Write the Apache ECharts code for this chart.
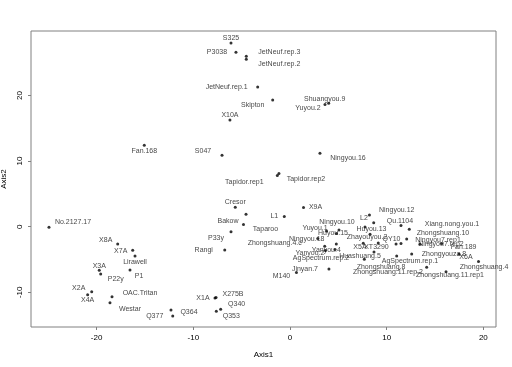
<!DOCTYPE html>
<html>
<head>
<meta charset="utf-8">
<script src="https://cdn.jsdelivr.net/npm/echarts@6/dist/echarts.min.js"></script>
<style>
html,body{margin:0;padding:0;background:#fff;}
#chart{width:512px;height:367px;}
</style>
</head>
<body>
<div id="chart"></div>
<script>
// Sample names and their ordination scores
const names = ["S325","P3038","JetNeuf.rep.3","JetNeuf.rep.2","JetNeuf.rep.1","Skipton","Shuangyou.9","Yuyou.2","X10A","S047",
 "Fan.168","Ningyou.16","Tapidor.rep1","Tapidor.rep2","Cresor","X9A","Bakow","Taparoo","L1","P33y",
 "Rangi","No.2127.17","X8A","X7A","Lirawell","X3A","P22y","P1","X2A","X4A",
 "OAC.Tritan","Westar","Q377","Q364","X1A","X275B","Q340","Q353","M140","Jinyan.7",
 "Ningyou.18","Zhongshuang.4.c","Yanyou.4","AgSpectrum.rep.2","Yanyou.2","Huyou.15","Ningyou.10","Yuyou.1","L2","Ningyou.12",
 "Huyou.13","Qu.1104","Xiang.nong.you.1","Zhayouyou.2","Zhongshuang.10","QY10","X5A","XT3290","Huashuang.5","Zhongshuang.8",
 "AgSpectrum.rep.1","Zhongyouza.8","Ningyou7.rep1","Ningyou7.rep2","Fan.189","X6A","Zhongshuang.4","Zhongshuang.11.rep.2","Zhongshuang.11.rep1"];
const axis1 = [-6.10,-5.59,-4.52,-4.52,-3.34,-1.79,4.00,3.62,-6.21,-7.03,
 -15.07,3.10,-1.31,-1.14,-5.66,1.40,-4.55,-4.81,-0.59,-6.10,
 -6.75,-24.93,-17.82,-16.27,-16.03,-19.73,-19.58,-16.55,-20.51,-20.93,
 -18.41,-18.62,-12.13,-12.31,-7.76,-7.65,-7.17,-7.62,0.67,4.03,
 2.87,3.59,4.79,4.66,3.67,4.81,5.07,3.78,8.22,8.66,
 7.76,11.48,12.34,8.28,12.07,10.97,7.58,9.13,8.69,7.69,
 11.04,12.59,13.45,11.48,15.69,17.48,19.50,14.14,16.14];
const axis2 = [28.00,26.59,25.98,25.52,21.30,19.31,18.81,18.63,16.27,10.88,
 12.41,11.19,7.80,8.11,2.96,2.93,1.89,0.34,1.55,-0.76,
 -3.55,-0.09,-2.64,-3.60,-4.47,-6.65,-7.21,-6.60,-9.91,-10.37,
 -10.67,-11.59,-13.61,-12.70,-10.87,-10.79,-12.59,-12.90,-6.98,-6.45,
 -1.80,-2.99,-2.64,-3.48,-3.63,-1.04,-0.50,-0.66,1.78,0.61,
 -0.05,0.18,-0.40,-1.16,-1.88,-2.64,-2.53,-2.48,-3.86,-4.97,
 -4.47,-4.16,-2.68,-2.56,-2.56,-4.16,-5.30,-6.19,-6.86];
const xTicks = [-20,-10,0,10,20];
const yTicks = [-10,0,10,20];

// label placement (pixel offsets of each label from its point)
const labelOffsets = [[0,-5],[-19,0],[33,-4],[33,5],[-31,0],[-20,5],[-4,-4],[-17,4],[0,-5],[-19,-4],
 [0,6],[28,5],[-33,7],[27,6],[0,-5],[12,0],[-18,7],[22,5],[-10,0],[-15,6],
 [-21,0],[24,-5],[-12,-4],[-12,1],[0,6],[0,-4],[15,5],[9,6],[-13,-4],[0,5],
 [28,-4],[20,6],[-18,0],[18,2],[-12,0],[17,-3],[16,-5],[15,5],[-15,4],[-24,0],
 [-11,0.5],[-50,-3],[-10,6],[-14,8.5],[-15.5,3],[-3.5,0],[-2,-7.7],[-11.5,-3],[-5.5,3],[23,-12.7],
 [6.5,2.5],[-1,-4.2],[42.7,-4.8],[-3,2.7],[36.3,-5.7],[-4.5,-5.3],[-3.3,4.2],[-1.8,4.5],[-14,4],[16.7,7.7],
 [13.3,5],[32.3,0],[18,-4],[40,0.5],[22,4],[7,2.7],[5.5,5.8],[-38.7,4.4],[4,3.3]];

const chart = echarts.init(document.getElementById('chart'), null, {renderer:'canvas'});
const font = 'Liberation Sans, Arial, sans-serif';
const data = names.map((n,i)=>({name:n, value:[axis1[i], axis2[i]]}));
chart.setOption({
  animation:false,
  backgroundColor:'#fff',
  grid:{left:31, top:31, right:16, bottom:40, show:true, borderColor:'#808080', borderWidth:1,
        backgroundColor:'transparent', containLabel:false, outerBoundsMode:'none'},
  xAxis:{
    type:'value', min:-26.79, max:21.31,
    name:'Axis1', nameLocation:'middle', nameGap:24,
    nameTextStyle:{fontFamily:font, fontSize:8, color:'#000'},
    axisLine:{show:false, onZero:false},
    splitLine:{show:false},
    axisTick:{show:true, inside:false, length:3, customValues:xTicks, lineStyle:{color:'#808080'}},
    axisLabel:{show:true, margin:7, customValues:xTicks, fontFamily:font, fontSize:8, color:'#000'}
  },
  yAxis:{
    type:'value', min:-15.29, max:29.83,
    name:'Axis2', nameLocation:'middle', nameGap:17, nameRotate:90,
    nameTextStyle:{fontFamily:font, fontSize:8, color:'#000'},
    axisLine:{show:false, onZero:false},
    splitLine:{show:false},
    axisTick:{show:true, inside:false, length:3, customValues:yTicks, lineStyle:{color:'#808080'}},
    axisLabel:{show:true, margin:7, rotate:90, customValues:yTicks, fontFamily:font, fontSize:8, color:'#000'}
  },
  series:[{
    type:'scatter',
    data:data,
    symbol:'circle',
    symbolSize:3,
    itemStyle:{color:'#000'},
    label:{show:true, position:'inside', formatter:'{b}', fontFamily:font, fontSize:7, color:'#111'},
    labelLayout:function(params){
      const o = labelOffsets[params.dataIndex];
      return {dx:o[0], dy:o[1], hideOverlap:false};
    },
    clip:false
  }]
});
</script>
</body>
</html>
